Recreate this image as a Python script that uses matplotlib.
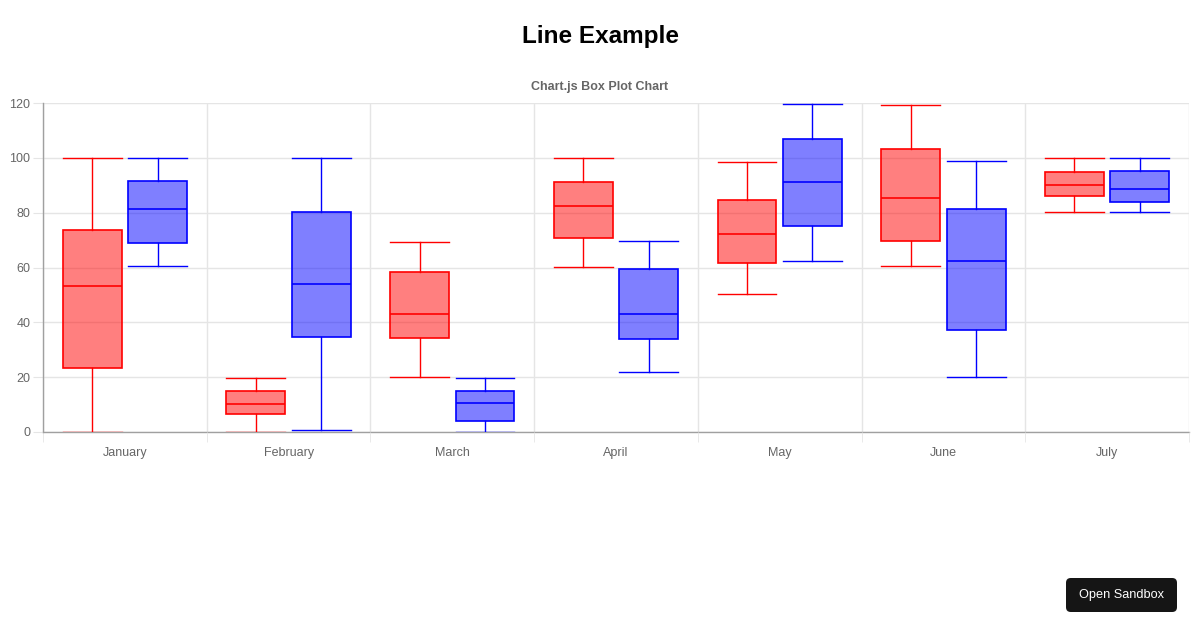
import matplotlib
matplotlib.use("Agg")
import matplotlib.pyplot as plt
from matplotlib.patches import FancyBboxPatch

months = ["January", "February", "March", "April", "May", "June", "July"]

# Dataset 1 (red): min, q1, median, q3, max
red_min = [0.0, 0.0, 20.0, 60.1, 50.3, 60.4, 80.2]
red_q1 = [23.3, 6.5, 34.4, 70.8, 61.7, 69.5, 86.0]
red_med = [53.2, 10.1, 43.0, 82.3, 72.4, 85.3, 90.1]
red_q3 = [73.6, 15.0, 58.5, 91.2, 84.6, 103.3, 95.0]
red_max = [100.0, 19.8, 69.3, 100.0, 98.5, 119.1, 100.0]

# Dataset 2 (blue)
blue_min = [60.4, 0.7, 0.0, 21.8, 62.3, 20.0, 80.1]
blue_q1 = [68.9, 34.7, 4.0, 33.8, 75.3, 37.1, 84.0]
blue_med = [81.2, 54.0, 10.5, 43.1, 91.2, 62.3, 88.8]
blue_q3 = [91.6, 80.4, 14.8, 59.6, 107.0, 81.2, 95.2]
blue_max = [100.0, 100.0, 19.8, 69.7, 119.7, 98.9, 100.0]

y_ticks = [0, 20, 40, 60, 80, 100, 120]

W, H = 1200, 630
fig = plt.figure(figsize=(W / 100, H / 100), dpi=100)
ax = fig.add_axes([43 / W, (H - 432) / H, 1146 / W, 329 / H])


def stats(mn, q1, med, q3, mx):
    return [dict(whislo=a, q1=b, med=c, q3=d, whishi=e, fliers=[])
            for a, b, c, d, e in zip(mn, q1, med, q3, mx)]


n = len(months)
off, bw = 0.2, 0.36
for data, color, face, sign in [
    (stats(red_min, red_q1, red_med, red_q3, red_max), "#ff0000", (1, 0, 0, 0.5), -1),
    (stats(blue_min, blue_q1, blue_med, blue_q3, blue_max), "#0000ff", (0, 0, 1, 0.5), 1),
]:
    pos = [i + sign * off for i in range(n)]
    ax.bxp(data, positions=pos, widths=bw, patch_artist=True, showfliers=False,
           capwidths=bw, manage_ticks=False,
           boxprops=dict(facecolor=face, edgecolor=color, linewidth=1.2),
           medianprops=dict(color=color, linewidth=1.2),
           whiskerprops=dict(color=color, linewidth=1.0),
           capprops=dict(color=color, linewidth=1.0))

ax.set_xlim(-0.5, n - 0.5)
ax.set_ylim(0, 120)
ax.set_yticks(y_ticks)
ax.set_xticks(range(n))
ax.set_xticklabels(months)
ax.set_xticks([i - 0.5 for i in range(n + 1)], minor=True)

grid_c = "#e5e5e5"
ax.grid(False)
for y in y_ticks:
    ax.axhline(y, color=grid_c, lw=1, zorder=0)
for x in [i - 0.5 for i in range(n + 1)]:
    ax.axvline(x, color=grid_c, lw=1, zorder=0)
ax.axhline(0, color="#a0a0a0", lw=1, zorder=0.5, clip_on=False)

for s in ["top", "right", "bottom"]:
    ax.spines[s].set_visible(False)
ax.spines["left"].set_color("#a0a0a0")
ax.spines["left"].set_linewidth(1)

ax.tick_params(axis="y", length=7, color=grid_c, labelsize=9, labelcolor="#666666", pad=2)
ax.tick_params(axis="x", which="major", length=0, labelsize=9, labelcolor="#666666", pad=11)
ax.tick_params(axis="x", which="minor", length=7, color=grid_c)

fig.text(600 / W, 1 - 36 / H, "Line Example", ha="center", va="center",
         fontsize=17.5, fontweight="bold", family=["Liberation Sans", "DejaVu Sans"])
fig.text(600 / W, 1 - 87 / H, "Chart.js Box Plot Chart", ha="center", va="center",
         fontsize=9, fontweight="bold", color="#666666", family=["Liberation Sans", "DejaVu Sans"])

for lbl in ax.get_xticklabels() + ax.get_yticklabels():
    lbl.set_family(["Liberation Sans", "DejaVu Sans"])

btn = FancyBboxPatch((1066 / W, 1 - 612 / H), 111 / W, 34 / H,
                     boxstyle="round,pad=0,rounding_size=0.004",
                     mutation_aspect=W / H,
                     transform=fig.transFigure, facecolor="#151515", edgecolor="none")
fig.patches.append(btn)
fig.text(1121.5 / W, 1 - 595 / H, "Open Sandbox", ha="center", va="center",
         color="white", fontsize=9.2, family=["Liberation Sans", "DejaVu Sans"])

fig.savefig("out.png", dpi=100)
